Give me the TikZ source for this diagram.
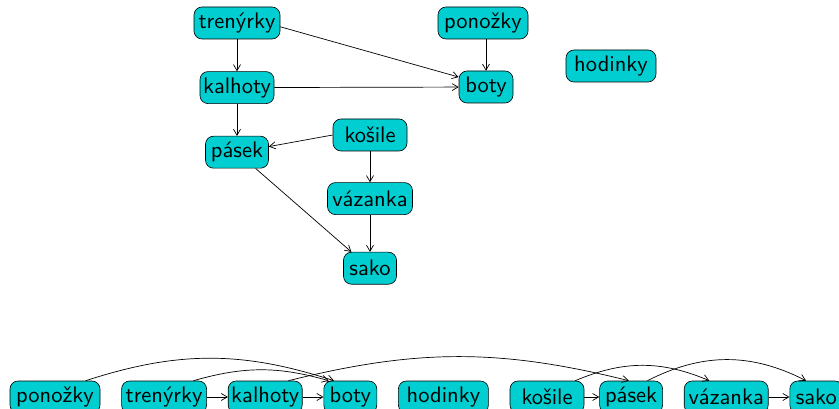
\documentclass[tikz,border=0pt]{standalone}
\usepackage{fontspec}
\setsansfont{lmsans10-regular.otf}
\usepackage{tikz}
\usetikzlibrary{arrows.meta, positioning}
\definecolor{nodecyan}{RGB}{0, 206, 209}

\begin{document}
\begin{tikzpicture}[x=1pt, y=-1pt,
    item/.style={rectangle, rounded corners=8pt, draw=black, fill=nodecyan, line width=0.6pt, minimum height=32pt, minimum width=#1pt, inner xsep=2pt, font=\sffamily\fontsize{22.5}{27}\selectfont},
    arrow/.style={-{Straight Barb[length=6pt, width=7pt]}, line width=0.7pt}
]
\useasboundingbox (0,0) rectangle (839,409);

% the graph
\node (trenyrky) [item=86] at (237,23) {trenýrky};
\node (kalhoty)  [item=74, below=32pt of trenyrky] {kalhoty};
\node (pasek)    [item=63, below=32pt of kalhoty] {pásek};
\node (ponozky)  [item=90] at (483,23) {ponožky};
\node (boty)     [item=54] at (486,87) {boty};
\node (hodinky)  [item=90] at (611,66) {hodinky};
\node (kosile)   [item=74] at (370,135) {košile};
\node (vazanka)  [item=85, below=31pt of kosile] {vázanka};
\node (sako)     [item=53, below=37pt of vazanka] {sako};

\draw [arrow] (trenyrky) -- (kalhoty);
\draw [arrow] (kalhoty) -- (pasek);
\draw [arrow] (trenyrky.-5) -- (boty.160);
\draw [arrow] (kalhoty) -- (boty);
\draw [arrow] (boty |- ponozky.south) -- (boty.north);
\draw [arrow] (kosile.west) -- (pasek.10);
\draw [arrow] (kosile) -- (vazanka);
\draw [arrow] (vazanka) -- (sako);
\draw [arrow] (pasek) -- (sako);

% the order
\node (ponozkyB)  [item=90] at (55,397) {ponožky};
\node (trenyrkyB) [item=85, right=21pt of ponozkyB] {trenýrky};
\node (kalhotyB)  [item=74, right=21pt of trenyrkyB] {kalhoty};
\node (botyB)     [item=53, right=21pt of kalhotyB] {boty};
\node (hodinkyB)  [item=90, right=21pt of botyB] {hodinky};
\node (kosileB)   [item=74, right=21pt of hodinkyB] {košile};
\node (pasekB)    [item=63, right=15pt of kosileB] {pásek};
\node (vazankaB)  [item=84, right=21pt of pasekB] {vázanka};
\node (sakoB)     [item=53, right=21pt of vazankaB] {sako};

\draw [arrow] (trenyrkyB) -- (kalhotyB);
\draw [arrow] (kalhotyB) -- (botyB);
\draw [arrow] (kosileB) -- (pasekB);
\draw [arrow] (vazankaB) -- (sakoB);
\draw [arrow] (ponozkyB.28) to[bend left=18] (botyB.135);
\draw [arrow] (trenyrkyB.29) to[bend left=16] (botyB.143);
\draw [arrow] (kalhotyB.35) to[bend left=14] (pasekB.98);
\draw [arrow] (kosileB.30) to[bend left=23] (vazankaB.136);
\draw [arrow] (pasekB.45) to[bend left=27] (sakoB.122);

\end{tikzpicture}
\end{document}
